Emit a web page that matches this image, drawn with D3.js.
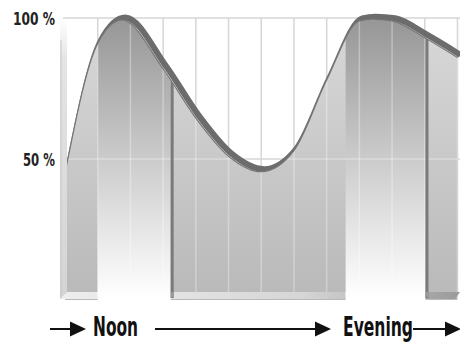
<!DOCTYPE html>
<html><head><meta charset="utf-8">
<script src="https://cdn.jsdelivr.net/npm/d3@7"></script>
<style>html,body{margin:0;padding:0;background:#fff;}svg{display:block;}</style>
</head><body>
<script>
// ---- data ----
const positions = [0, 1, 1.75, 3, 4, 5, 6, 7, 8, 9, 9.4, 10, 11, 12];
const values    = [45, 91, 99.3, 82, 64.5, 51, 45.5, 53, 78, 99, 99.6, 99, 93, 86];
const gridSteps = [0,1,2,3,4,5,6,7,8,9,10,11,12];
const yTicks = [50, 100];
const yTickLabels = ["50 %", "100 %"];
const bandLabels = ["Noon", "Evening"];
const bandStart = [1, 8.58];
const bandEnd = [3.23, 11.02];

const W = 460, H = 343;
const svg = d3.select("body").append("svg").attr("width", W).attr("height", H);
const x = d3.scaleLinear().domain([0, 12]).range([65, 457.5]);
const y = d3.scaleLinear().domain([0, 100]).range([300, 18]);
const pts = positions.map((p, i) => ({p, v: values[i]}));

const defs = svg.append("defs");
function vgrad(id, stops) {
  const g = defs.append("linearGradient").attr("id", id)
    .attr("gradientUnits", "userSpaceOnUse").attr("x1", 0).attr("x2", 0).attr("y1", 18).attr("y2", 298);
  stops.forEach(s => g.append("stop").attr("offset", s[0]).attr("stop-color", s[1]));
}
vgrad("areaG", [[0, "#d8d8d8"], [0.6, "#c6c6c6"], [1, "#b9b9b9"]]);
vgrad("bandG", [[0, "#969696"], [0.5, "#cbcbcb"], [1, "#ffffff"]]);
vgrad("wallG", [[0, "#ffffff"], [0.15, "#e4e4e4"], [1, "#d4d4d4"]]);
const fg = defs.append("linearGradient").attr("id", "floorG")
  .attr("gradientUnits", "userSpaceOnUse").attr("x1", 60).attr("x2", 460).attr("y1", 0).attr("y2", 0);
fg.append("stop").attr("offset", 0).attr("stop-color", "#eeeeee");
fg.append("stop").attr("offset", 0.6).attr("stop-color", "#d6d6d6");
fg.append("stop").attr("offset", 1).attr("stop-color", "#9a9a9a");

const area = d3.area().x(d => x(d.p)).y0(y(0)).y1(d => y(d.v)).curve(d3.curveMonotoneX);
const line = d3.line().x(d => x(d.p)).y(d => y(d.v)).curve(d3.curveMonotoneX);

defs.append("clipPath").attr("id", "areaClip").append("path").attr("d", area(pts));

// background grid
const grid = svg.append("g");
grid.selectAll("line.v").data(gridSteps.slice(1)).join("line")
  .attr("x1", d => x(d)).attr("x2", d => x(d)).attr("y1", y(100)).attr("y2", 293)
  .attr("stroke", "#d6d6d6").attr("stroke-width", 1.5);
grid.selectAll("line.h").data(yTicks).join("line")
  .attr("x1", 63).attr("x2", 460).attr("y1", d => y(d)).attr("y2", d => y(d))
  .attr("stroke", "#d6d6d6").attr("stroke-width", 1.5);

// dark ribbon edge
svg.append("path").attr("d", line(pts)).attr("fill", "none")
  .attr("stroke", "#6c6c6c").attr("stroke-width", 6).attr("stroke-linecap", "butt")
  .attr("transform", "translate(3,-2.5)");

// area fill
svg.append("path").attr("d", area(pts)).attr("fill", "url(#areaG)");

// floor
svg.append("polygon").attr("points", "67,292 460,292 455,299 60,299").attr("fill", "url(#floorG)");

// bands
const bands = svg.append("g").attr("clip-path", "url(#areaClip)");
bands.selectAll("rect").data(bandLabels).join("rect")
  .attr("x", (d, i) => x(bandStart[i])).attr("width", (d, i) => x(bandEnd[i]) - x(bandStart[i]))
  .attr("y", 0).attr("height", 300).attr("fill", "url(#bandG)");
svg.selectAll("rect.bf").data(bandLabels).join("rect").attr("class", "bf")
  .attr("x", (d, i) => x(bandStart[i])).attr("width", (d, i) => x(bandEnd[i]) - x(bandStart[i]))
  .attr("y", 292).attr("height", 5).attr("fill", "#fdfdfd");

// grid overlay inside area
const ov = svg.append("g").attr("clip-path", "url(#areaClip)");
ov.selectAll("line.v").data(gridSteps.slice(1)).join("line")
  .attr("x1", d => x(d)).attr("x2", d => x(d)).attr("y1", y(100)).attr("y2", 292)
  .attr("stroke", "#ffffff").attr("stroke-opacity", 0.32).attr("stroke-width", 1.5);
ov.selectAll("line.h").data([50]).join("line")
  .attr("x1", 63).attr("x2", 460).attr("y1", d => y(d)).attr("y2", d => y(d))
  .attr("stroke", "#ffffff").attr("stroke-opacity", 0.32).attr("stroke-width", 1.5);

// area outline
svg.append("path").attr("d", line(pts)).attr("fill", "none")
  .attr("stroke", "#757575").attr("stroke-width", 1.2);

// band right shadows
const shadow = svg.append("g").attr("clip-path", "url(#areaClip)");
shadow.selectAll("rect").data(bandLabels).join("rect")
  .attr("x", (d, i) => x(bandEnd[i])).attr("width", 3)
  .attr("y", 0).attr("height", 298).attr("fill", "#7a7a7a");
svg.selectAll("rect.sf").data(bandLabels).join("rect").attr("class", "sf")
  .attr("x", (d, i) => x(bandEnd[i])).attr("width", 3)
  .attr("y", 292).attr("height", 5).attr("fill", "#9a9a9a");

// left wall
svg.append("polygon").attr("points", "60,20 67,20 67,292 60,299").attr("fill", "url(#wallG)");
svg.append("line").attr("x1", 61).attr("x2", 61).attr("y1", 40).attr("y2", 298)
  .attr("stroke", "#c8c8c8").attr("stroke-width", 1);

// y labels
const font = "'Liberation Sans Narrow', 'DejaVu Sans Condensed', sans-serif";
svg.selectAll("text.yl").data(yTicks).join("text").attr("class", "yl")
  .attr("x", 55).attr("y", d => y(d) + 7).attr("text-anchor", "end")
  .attr("font-family", font).attr("font-weight", "bold").attr("font-size", 17)
  .attr("fill", "#222")
  .attr("textLength", (d, i) => i === 0 ? 32 : 42).attr("lengthAdjust", "spacingAndGlyphs")
  .text((d, i) => yTickLabels[i]);

// bottom arrows & labels
const ann = svg.append("g").attr("fill", "#111").attr("stroke", "#111");
const ay = 329;
function arrow(x0, x1) {
  ann.append("line").attr("x1", x0).attr("x2", x1 - 12).attr("y1", ay).attr("y2", ay).attr("stroke-width", 2);
  ann.append("polygon").attr("points", `${x1-16},${ay-7.5} ${x1},${ay} ${x1-16},${ay+7.5}`).attr("stroke", "none");
}
arrow(50, 86);
arrow(155, 331);
arrow(413, 461);
const labX = [93, 343], labW = [45, 70];
svg.selectAll("text.bl").data(bandLabels).join("text").attr("class", "bl")
  .attr("x", (d, i) => labX[i]).attr("y", 336)
  .attr("font-family", font).attr("font-weight", "bold").attr("font-size", 26)
  .attr("fill", "#111")
  .attr("textLength", (d, i) => labW[i]).attr("lengthAdjust", "spacingAndGlyphs")
  .text(d => d);
</script>
</body></html>
